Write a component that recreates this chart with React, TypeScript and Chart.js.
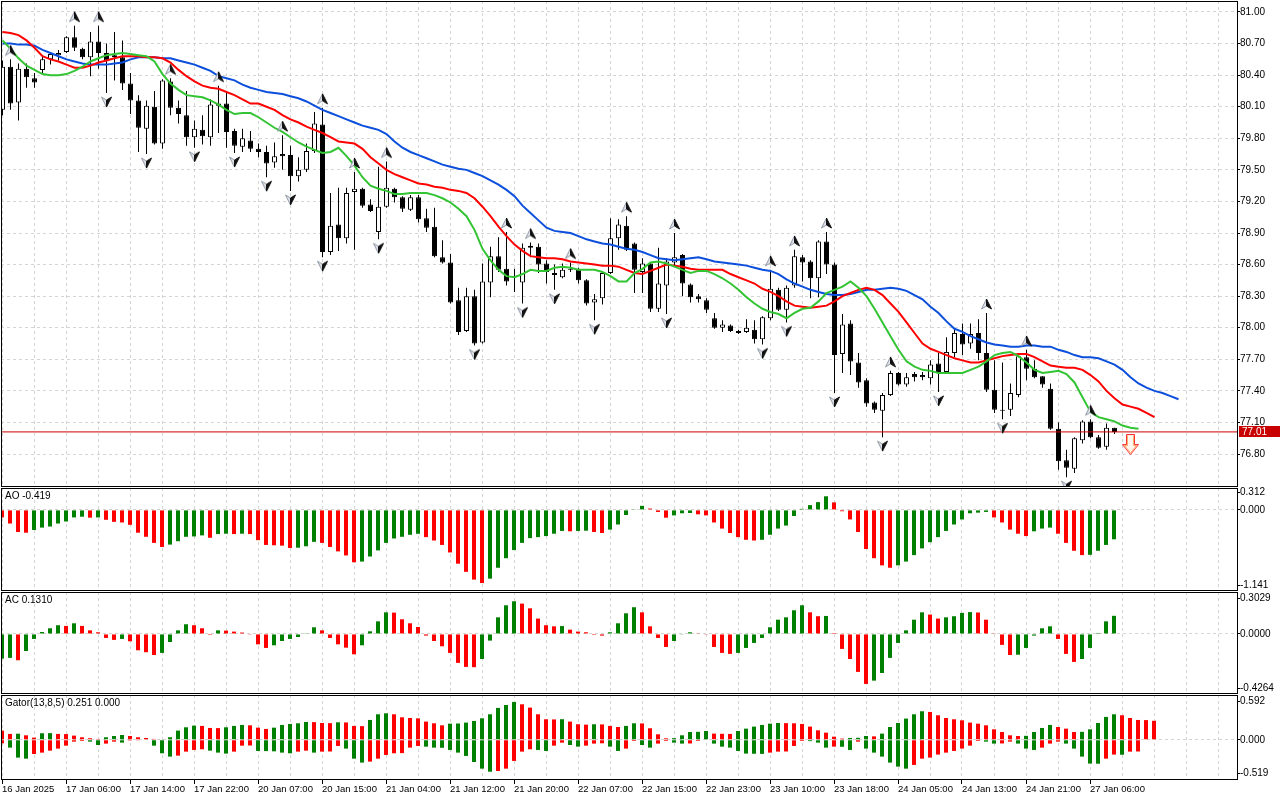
import { useEffect, useRef } from "react";
import { Chart, registerables } from "chart.js";

Chart.register(...registerables);
Chart.defaults.font.family = "'Liberation Sans', Arial, sans-serif";
Chart.defaults.font.size = 10;
Chart.defaults.color = "#000";

// ---- data (H1 bars) ----
const timeLabels = [
  "16 Jan 2025", "17 Jan 06:00", "17 Jan 14:00", "17 Jan 22:00", "20 Jan 07:00", "20 Jan 15:00",
  "21 Jan 04:00", "21 Jan 12:00", "21 Jan 20:00", "22 Jan 07:00", "22 Jan 15:00", "22 Jan 23:00",
  "23 Jan 10:00", "23 Jan 18:00", "24 Jan 05:00", "24 Jan 13:00", "24 Jan 21:00", "27 Jan 06:00",
];

const opens = [
  80.07, 80.48, 80.14, 80.46, 80.37, 80.45, 80.55, 80.59, 80.62, 80.76,
  80.65, 80.57, 80.72, 80.61, 80.59, 80.57, 80.32, 80.16, 79.89, 80.10,
  79.75, 80.34, 80.09, 80.02, 79.81, 79.88, 79.81, 80.11, 80.13, 79.87,
  79.72, 79.78, 79.70, 79.67, 79.57, 79.65, 79.64, 79.44, 79.50, 79.68,
  79.93, 78.72, 78.98, 78.85, 79.29, 79.32, 79.17, 78.91, 79.15, 79.32,
  79.24, 79.12, 79.24, 79.04, 78.96, 78.67, 78.62, 78.26, 77.97, 78.30,
  77.86, 78.43, 78.68, 78.56, 78.49, 78.43, 78.78, 78.77, 78.61, 78.52,
  78.48, 78.56, 78.55, 78.45, 78.24, 78.28, 78.52, 78.85, 78.97, 78.80,
  78.53, 78.61, 78.18, 78.40, 78.62, 78.69, 78.41, 78.30, 78.26, 78.09,
  78.00, 78.02, 77.97, 77.96, 77.98, 77.89, 78.09, 78.36, 78.17, 78.40,
  78.67, 78.63, 78.47, 78.82, 78.60, 77.75, 78.04, 77.67, 77.50, 77.29,
  77.21, 77.36, 77.57, 77.46, 77.56, 77.55, 77.52, 77.66, 77.58, 77.76,
  77.94, 77.85, 77.95, 77.76, 77.41, 77.22, 77.22, 77.36, 77.72, 77.61,
  77.54, 77.42, 77.04, 76.74, 76.66, 76.93, 77.11, 76.96, 76.87, 77.05,
];
const highs = [
  80.54, 80.55, 80.51, 80.51, 80.42, 80.59, 80.62, 80.64, 80.77, 80.87,
  80.66, 80.81, 80.87, 80.70, 80.81, 80.73, 80.42, 80.21, 80.16, 80.25,
  80.36, 80.37, 80.16, 80.25, 79.97, 80.02, 80.17, 80.30, 80.23, 79.89,
  79.89, 79.87, 79.75, 79.73, 79.76, 79.83, 79.73, 79.62, 79.75, 80.05,
  80.09, 79.28, 79.33, 79.33, 79.48, 79.33, 79.22, 79.53, 79.58, 79.33,
  79.25, 79.26, 79.26, 79.13, 79.14, 78.83, 78.70, 78.38, 78.38, 78.36,
  78.61, 78.77, 78.86, 78.91, 78.56, 78.80, 78.81, 78.80, 78.64, 78.60,
  78.61, 78.62, 78.57, 78.46, 78.32, 78.53, 79.04, 79.03, 79.06, 78.81,
  78.66, 78.62, 78.76, 78.66, 78.90, 78.70, 78.42, 78.32, 78.28, 78.14,
  78.07, 78.03, 77.98, 78.08, 78.07, 78.11, 78.55, 78.38, 78.40, 78.74,
  78.69, 78.64, 78.83, 78.91, 78.62, 78.13, 78.07, 77.76, 77.52, 77.30,
  77.38, 77.59, 77.58, 77.57, 77.58, 77.58, 77.69, 77.76, 77.91, 77.99,
  78.04, 78.04, 78.08, 78.14, 77.69, 77.67, 77.47, 77.73, 77.79, 77.69,
  77.54, 77.47, 77.10, 76.84, 76.96, 77.12, 77.13, 76.98, 77.09, 77.05,
];
const lows = [
  80.02, 80.07, 79.97, 80.28, 80.28, 80.41, 80.50, 80.54, 80.61, 80.63,
  80.55, 80.39, 80.46, 80.23, 80.35, 80.26, 80.03, 79.67, 79.65, 79.74,
  79.70, 80.02, 79.94, 79.73, 79.71, 79.74, 79.73, 79.85, 79.71, 79.66,
  79.67, 79.67, 79.62, 79.43, 79.52, 79.50, 79.30, 79.39, 79.48, 79.66,
  78.67, 78.69, 78.73, 78.80, 78.74, 79.14, 79.10, 78.84, 79.14, 79.19,
  79.10, 79.11, 79.00, 78.91, 78.67, 78.61, 78.23, 77.93, 77.96, 77.83,
  77.85, 78.29, 78.53, 78.40, 78.34, 78.23, 78.67, 78.52, 78.42, 78.36,
  78.47, 78.53, 78.42, 78.21, 78.07, 78.22, 78.51, 78.74, 78.73, 78.33,
  78.33, 78.15, 78.15, 78.13, 78.59, 78.30, 78.24, 78.24, 78.14, 77.99,
  77.96, 77.96, 77.94, 77.95, 77.85, 77.84, 78.07, 78.16, 78.05, 78.38,
  78.44, 78.28, 78.29, 78.51, 77.38, 77.57, 77.55, 77.43, 77.25, 77.19,
  76.96, 77.35, 77.45, 77.44, 77.49, 77.50, 77.46, 77.39, 77.57, 77.72,
  77.74, 77.80, 77.69, 77.39, 77.19, 77.13, 77.16, 77.34, 77.50, 77.52,
  77.43, 77.03, 76.65, 76.58, 76.62, 76.90, 76.95, 76.85, 76.84, 76.99,
];
const closes = [
  80.48, 80.13, 80.46, 80.38, 80.33, 80.55, 80.60, 80.61, 80.76, 80.66,
  80.57, 80.72, 80.61, 80.54, 80.57, 80.32, 80.16, 79.90, 80.11, 79.75,
  80.35, 80.09, 80.03, 79.81, 79.89, 79.82, 80.12, 80.13, 79.86, 79.73,
  79.80, 79.70, 79.67, 79.56, 79.63, 79.63, 79.44, 79.50, 79.68, 79.94,
  78.72, 78.97, 78.85, 79.28, 79.32, 79.16, 79.11, 79.15, 79.33, 79.24,
  79.13, 79.24, 79.03, 78.95, 78.68, 78.62, 78.24, 77.96, 78.30, 77.85,
  78.44, 78.68, 78.55, 78.44, 78.48, 78.76, 78.76, 78.60, 78.53, 78.50,
  78.55, 78.55, 78.45, 78.23, 78.27, 78.52, 78.85, 78.98, 78.74, 78.55,
  78.61, 78.18, 78.42, 78.63, 78.67, 78.42, 78.29, 78.27, 78.17, 78.00,
  78.03, 77.97, 77.95, 78.00, 77.89, 78.10, 78.37, 78.17, 78.38, 78.68,
  78.62, 78.47, 78.82, 78.60, 77.74, 78.03, 77.68, 77.48, 77.28, 77.22,
  77.36, 77.57, 77.46, 77.53, 77.53, 77.53, 77.65, 77.57, 77.77, 77.95,
  77.84, 77.94, 77.76, 77.41, 77.22, 77.21, 77.38, 77.73, 77.61, 77.53,
  77.46, 77.04, 76.73, 76.67, 76.95, 77.11, 76.96, 76.86, 77.05, 77.01,
];

// Alligator (jaw / teeth / lips), already shifted forward
const jaw = [
  80.70, 80.70, 80.69, 80.69, 80.68, 80.64, 80.61, 80.58, 80.55, 80.53,
  80.51, 80.50, 80.50, 80.50, 80.51, 80.52, 80.55, 80.57, 80.57, 80.57,
  80.56, 80.56, 80.54, 80.52, 80.50, 80.47, 80.44, 80.39, 80.37, 80.35,
  80.31, 80.28, 80.26, 80.24, 80.23, 80.22, 80.20, 80.18, 80.15, 80.11,
  80.07, 80.04, 80.01, 79.98, 79.95, 79.92, 79.90, 79.88, 79.84, 79.77,
  79.71, 79.67, 79.64, 79.61, 79.58, 79.55, 79.53, 79.51, 79.50, 79.47,
  79.44, 79.40, 79.36, 79.31, 79.25, 79.16, 79.09, 79.02, 78.95, 78.92,
  78.91, 78.90, 78.87, 78.84, 78.82, 78.80, 78.79, 78.77, 78.75, 78.74,
  78.72, 78.69, 78.66, 78.65, 78.64, 78.65, 78.66, 78.67, 78.65, 78.63,
  78.62, 78.61, 78.60, 78.59, 78.57, 78.55, 78.54, 78.51, 78.46, 78.42,
  78.39, 78.36, 78.34, 78.32, 78.31, 78.31, 78.32, 78.34, 78.36, 78.36,
  78.37, 78.38, 78.37, 78.35, 78.31, 78.27, 78.20, 78.14, 78.06, 77.99,
  77.96, 77.92, 77.89, 77.86, 77.84, 77.83, 77.82, 77.82, 77.83, 77.83,
  77.82, 77.82, 77.79, 77.77, 77.74, 77.72, 77.72, 77.71, 77.68, 77.65,
  77.60, 77.53, 77.47, 77.43, 77.40, 77.38, 77.35, 77.32,
];
const teeth = [
  80.81, 80.80, 80.78, 80.73, 80.66, 80.58, 80.55, 80.53, 80.50, 80.47,
  80.47, 80.49, 80.52, 80.54, 80.56, 80.58, 80.58, 80.58, 80.57, 80.57,
  80.56, 80.52, 80.45, 80.39, 80.34, 80.30, 80.28, 80.27, 80.24, 80.21,
  80.17, 80.13, 80.13, 80.10, 80.07, 80.02, 79.98, 79.95, 79.91, 79.88,
  79.85, 79.81, 79.77, 79.76, 79.75, 79.70, 79.62, 79.56, 79.50, 79.46,
  79.43, 79.40, 79.37, 79.36, 79.34, 79.33, 79.31, 79.30, 79.28, 79.23,
  79.15, 79.06, 78.96, 78.87, 78.79, 78.73, 78.68, 78.67, 78.66, 78.66,
  78.65, 78.63, 78.62, 78.61, 78.60, 78.59, 78.59, 78.58, 78.55, 78.52,
  78.51, 78.54, 78.57, 78.60, 78.59, 78.58, 78.56, 78.55, 78.55, 78.55,
  78.55, 78.51, 78.48, 78.45, 78.42, 78.37, 78.34, 78.30, 78.25, 78.21,
  78.20, 78.19, 78.20, 78.21, 78.25, 78.30, 78.33, 78.36, 78.38, 78.36,
  78.31, 78.23, 78.15, 78.05, 77.95, 77.85, 77.80, 77.77, 77.74, 77.71,
  77.69, 77.67, 77.67, 77.69, 77.71, 77.73, 77.74, 77.75, 77.75, 77.72,
  77.68, 77.64, 77.63, 77.62, 77.62, 77.60, 77.55, 77.49, 77.40, 77.33,
  77.27, 77.25, 77.23, 77.19, 77.15,
];
const lips = [
  80.73, 80.65, 80.56, 80.49, 80.45, 80.41, 80.40, 80.40, 80.41, 80.44,
  80.48, 80.53, 80.56, 80.59, 80.60, 80.61, 80.60, 80.59, 80.58, 80.53,
  80.41, 80.32, 80.26, 80.21, 80.20, 80.19, 80.16, 80.12, 80.07, 80.03,
  80.04, 80.04, 80.00, 79.95, 79.90, 79.86, 79.81, 79.76, 79.72, 79.69,
  79.66, 79.67, 79.71, 79.63, 79.54, 79.43, 79.35, 79.32, 79.30, 79.27,
  79.27, 79.28, 79.28, 79.28, 79.26, 79.23, 79.19, 79.13, 79.06, 78.93,
  78.75, 78.64, 78.55, 78.49, 78.48, 78.51, 78.55, 78.54, 78.54, 78.57,
  78.58, 78.57, 78.55, 78.55, 78.55, 78.53, 78.49, 78.44, 78.44, 78.52,
  78.56, 78.62, 78.63, 78.61, 78.58, 78.55, 78.52, 78.54, 78.54, 78.51,
  78.47, 78.42, 78.36, 78.29, 78.23, 78.18, 78.15, 78.13, 78.09, 78.14,
  78.18, 78.19, 78.25, 78.33, 78.36, 78.39, 78.44, 78.38, 78.30, 78.18,
  78.05, 77.92, 77.79, 77.68, 77.63, 77.60, 77.59, 77.57, 77.57, 77.57,
  77.57, 77.60, 77.63, 77.68, 77.74, 77.76, 77.77, 77.73, 77.67, 77.60,
  77.57, 77.58, 77.59, 77.56, 77.48, 77.34, 77.20, 77.15, 77.13, 77.11,
  77.07, 77.05, 77.04,
];

const fractalUp = [1, 9, 12, 21, 27, 35, 40, 44, 48, 63, 66, 71, 78, 84, 96, 99, 103, 111, 123, 128, 136];
const fractalDown = [13, 18, 24, 29, 33, 36, 40, 47, 59, 65, 69, 74, 83, 95, 98, 104, 110, 117, 125, 133];
const sellBar = 141;
const sellPrice = 76.89;

const priceTicks = [76.8, 77.1, 77.4, 77.7, 78.0, 78.3, 78.6, 78.9, 79.2, 79.5, 79.8, 80.1, 80.4, 80.7, 81.0];
const priceMin = 76.496;
const priceMax = 81.1045;

const aoValues = [
  -0.107, -0.194, -0.315, -0.325, -0.286, -0.252, -0.237, -0.194, -0.165, -0.107,
  -0.097, -0.111, -0.107, -0.141, -0.170, -0.179, -0.213, -0.325, -0.383, -0.470,
  -0.528, -0.494, -0.446, -0.383, -0.378, -0.363, -0.397, -0.344, -0.339, -0.344,
  -0.339, -0.344, -0.431, -0.499, -0.504, -0.509, -0.543, -0.538, -0.518, -0.455,
  -0.470, -0.528, -0.591, -0.649, -0.746, -0.736, -0.664, -0.577, -0.470, -0.407,
  -0.383, -0.355, -0.340, -0.388, -0.436, -0.499, -0.606, -0.766, -0.882, -0.993,
  -1.042, -0.979, -0.824, -0.688, -0.572, -0.470, -0.402, -0.388, -0.373, -0.339,
  -0.300, -0.305, -0.300, -0.296, -0.315, -0.329, -0.281, -0.208, -0.073, 0.010,
  0.058, 0.019, -0.029, -0.111, -0.078, -0.048, -0.044, -0.063, -0.078, -0.179,
  -0.266, -0.329, -0.388, -0.426, -0.436, -0.426, -0.354, -0.266, -0.223, -0.087,
  0.015, 0.068, 0.111, 0.194, 0.107, -0.019, -0.136, -0.315, -0.557, -0.688,
  -0.790, -0.824, -0.790, -0.736, -0.644, -0.548, -0.460, -0.388, -0.300, -0.208,
  -0.136, -0.048, -0.039, -0.029, -0.107, -0.179, -0.281, -0.339, -0.373, -0.305,
  -0.266, -0.252, -0.339, -0.470, -0.582, -0.644, -0.640, -0.582, -0.499, -0.419,
];
const acValues = [
  -0.178, -0.173, -0.190, -0.123, -0.036, 0.014, 0.041, 0.063, 0.058, 0.077,
  0.058, 0.026, 0.012, -0.029, -0.043, -0.036, -0.053, -0.118, -0.132, -0.152,
  -0.137, -0.058, 0.026, 0.070, 0.063, 0.041, -0.007, 0.026, 0.024, 0.017,
  0.010, -0.002, -0.075, -0.101, -0.082, -0.051, -0.036, -0.022, 0.005, 0.048,
  0.026, -0.029, -0.075, -0.099, -0.147, -0.082, 0.019, 0.091, 0.156, 0.154,
  0.106, 0.077, 0.050, -0.012, -0.051, -0.089, -0.137, -0.209, -0.238, -0.240,
  -0.181, -0.048, 0.120, 0.207, 0.236, 0.219, 0.185, 0.111, 0.063, 0.055,
  0.057, 0.031, 0.017, 0.012, -0.007, -0.012, 0.012, 0.077, 0.149, 0.193,
  0.156, 0.055, -0.029, -0.094, -0.051, -0.005, 0.012, 0.005, -0.005, -0.094,
  -0.137, -0.144, -0.137, -0.101, -0.065, -0.029, 0.048, 0.103, 0.120, 0.171,
  0.207, 0.156, 0.128, 0.130, 0.007, -0.108, -0.181, -0.274, -0.361, -0.337,
  -0.282, -0.173, -0.065, 0.026, 0.103, 0.156, 0.140, 0.111, 0.120, 0.128,
  0.152, 0.158, 0.155, 0.103, 0.005, -0.079, -0.152, -0.150, -0.101, -0.012,
  0.041, 0.055, -0.036, -0.144, -0.202, -0.181, -0.101, 0.007, 0.091, 0.131,
];
const gatorUp = [
  0.121, 0.077, 0.080, 0.059, 0.028, 0.086, 0.088, 0.077, 0.075, 0.055,
  0.033, 0.020, 0.011, 0.033, 0.050, 0.063, 0.050, 0.033, 0.024, 0.011,
  0.006, 0.033, 0.121, 0.165, 0.187, 0.183, 0.156, 0.154, 0.165, 0.183,
  0.196, 0.191, 0.160, 0.143, 0.160, 0.196, 0.209, 0.218, 0.235, 0.233,
  0.222, 0.220, 0.231, 0.229, 0.183, 0.180, 0.262, 0.337, 0.350, 0.337,
  0.297, 0.288, 0.283, 0.240, 0.218, 0.191, 0.213, 0.215, 0.227, 0.249,
  0.284, 0.337, 0.421, 0.460, 0.500, 0.469, 0.425, 0.337, 0.271, 0.269,
  0.272, 0.240, 0.205, 0.200, 0.205, 0.203, 0.183, 0.169, 0.183, 0.218,
  0.216, 0.152, 0.072, 0.019, 0.021, 0.059, 0.103, 0.105, 0.116, 0.081,
  0.079, 0.077, 0.116, 0.147, 0.174, 0.196, 0.213, 0.222, 0.220, 0.218,
  0.209, 0.174, 0.125, 0.094, 0.041, 0.015, 0.024, 0.026, 0.050, 0.045,
  0.081, 0.169, 0.222, 0.280, 0.337, 0.377, 0.368, 0.324, 0.288, 0.271,
  0.257, 0.227, 0.213, 0.191, 0.138, 0.103, 0.059, 0.050, 0.052, 0.103,
  0.156, 0.196, 0.169, 0.147, 0.103, 0.105, 0.138, 0.222, 0.302, 0.337,
  0.324, 0.288, 0.262, 0.260, 0.251,
];
const gatorDown = [
  -0.047, -0.104, -0.236, -0.250, -0.188, -0.170, -0.144, -0.117, -0.078, -0.025,
  -0.016, -0.025, -0.069, -0.051, -0.025, -0.038, -0.011, -0.009, -0.007, -0.078,
  -0.179, -0.223, -0.210, -0.157, -0.135, -0.126, -0.144, -0.170, -0.183, -0.157,
  -0.078, -0.076, -0.148, -0.150, -0.153, -0.170, -0.179, -0.157, -0.144, -0.170,
  -0.157, -0.155, -0.082, -0.117, -0.250, -0.302, -0.289, -0.250, -0.201, -0.179,
  -0.177, -0.104, -0.082, -0.091, -0.104, -0.106, -0.135, -0.170, -0.214, -0.294,
  -0.382, -0.422, -0.413, -0.382, -0.280, -0.157, -0.126, -0.135, -0.148, -0.078,
  -0.038, -0.069, -0.091, -0.078, -0.051, -0.047, -0.091, -0.148, -0.117, -0.016,
  -0.069, -0.104, -0.051, -0.016, -0.038, -0.051, -0.049, -0.016, -0.007, -0.051,
  -0.091, -0.104, -0.148, -0.183, -0.185, -0.187, -0.170, -0.157, -0.155, -0.082,
  -0.016, -0.018, -0.038, -0.104, -0.091, -0.093, -0.135, -0.025, -0.117, -0.170,
  -0.223, -0.302, -0.355, -0.382, -0.333, -0.250, -0.236, -0.196, -0.170, -0.148,
  -0.117, -0.078, -0.016, -0.025, -0.051, -0.049, -0.025, -0.051, -0.117, -0.135,
  -0.104, -0.051, -0.025, -0.051, -0.117, -0.223, -0.315, -0.317, -0.250, -0.196,
  -0.198, -0.157, -0.155,
];

const aoRange = [-1.141, 0.312];
const acRange = [-0.4264, 0.3029];
const gatorRange = [-0.519, 0.592];

// ---- look ----
const W = 1280;
const AXIS_W = 43;
const BAR_PX = 8;
const GRID = "#d4d4d4";
const GREEN = "#008000";
const RED = "#ff0000";
const FONT = "10px 'Liberation Sans', Arial, sans-serif";

function histColors(values: number[], firstUp: boolean, byAbs: boolean) {
  return values.map((v, i) => {
    if (i === 0) return firstUp ? GREEN : RED;
    const a = byAbs ? Math.abs(v) : v;
    const b = byAbs ? Math.abs(values[i - 1]) : values[i - 1];
    return a > b ? GREEN : RED;
  });
}

// scales must not reserve room for half-labels: the panes are laid out by hand
function noPad(s: any) {
  s.paddingTop = 0;
  s.paddingBottom = 0;
  s.paddingLeft = 0;
  s.paddingRight = 0;
}

function xScale(firstBarPx: number, withLabels: boolean) {
  const left = 1;
  const min = -(firstBarPx - left) / BAR_PX;
  const max = min + (W - AXIS_W - left) / BAR_PX;
  const labelled = (v: number) => v % 8 === 0 && v / 8 < timeLabels.length;
  return {
    type: "linear",
    min,
    max,
    offset: false,
    afterBuildTicks: (s: any) => {
      const t = [];
      for (let v = 0; v <= max; v += 4) t.push({ value: v });
      s.ticks = t;
    },
    afterFit: (s: any) => {
      s.height = withLabels ? 21 : 0;
      noPad(s);
    },
    ticks: {
      display: withLabels,
      autoSkip: false,
      maxRotation: 0,
      minRotation: 0,
      align: "start",
      padding: 0,
      font: { size: 9.5 },
      callback: (v: any) => (labelled(Number(v)) ? timeLabels[Number(v) / 8] : ""),
    },
    grid: {
      offset: false,
      color: GRID,
      drawTicks: withLabels,
      tickLength: 5,
      tickColor: (c: any) => (c.tick && labelled(c.tick.value) ? "#000" : "rgba(0,0,0,0)"),
      borderDash: [3, 3],
    },
    border: { display: false, dash: [3, 3] },
  };
}

function subYScale(range: number[], areaH: number, offTop: number, offBot: number, digits: number) {
  const [min, max] = range;
  const span = max - min;
  const tTop = max - (offTop * span) / areaH;
  const tBot = min + (offBot * span) / areaH;
  return {
    type: "linear",
    position: "right",
    min,
    max,
    afterBuildTicks: (s: any) => {
      s.ticks = [{ value: tBot }, { value: 0 }, { value: tTop }];
    },
    afterFit: (s: any) => {
      s.width = AXIS_W;
      noPad(s);
    },
    ticks: {
      autoSkip: false,
      padding: 0,
      callback: (v: any) => {
        const n = Number(v);
        return n > 0 ? max.toFixed(digits) : n < 0 ? min.toFixed(digits) : (0).toFixed(digits);
      },
    },
    grid: {
      color: (c: any) => (c.tick && c.tick.value === 0 ? GRID : "rgba(0,0,0,0)"),
      tickColor: "#000",
      tickLength: 3,
      borderDash: [3, 3],
    },
    border: { display: false, dash: [3, 3] },
  };
}

const framePlugin = {
  id: "frame",
  afterDraw(chart: any) {
    const { ctx, chartArea: a } = chart;
    ctx.save();
    ctx.strokeStyle = "#000";
    ctx.lineWidth = 1;
    ctx.strokeRect(a.left + 0.5, a.top + 0.5, a.right - a.left, a.bottom - a.top);
    ctx.restore();
  },
};

const paneTitlePlugin = {
  id: "paneTitle",
  afterDraw(chart: any, _args: any, opts: any) {
    if (!opts || !opts.text) return;
    const { ctx, chartArea: a } = chart;
    ctx.save();
    ctx.font = FONT;
    ctx.fillStyle = "#000";
    ctx.textBaseline = "middle";
    ctx.fillText(opts.text, a.left + 4, a.top + 8);
    ctx.restore();
  },
};

const priceTagPlugin = {
  id: "priceTag",
  afterDraw(chart: any) {
    const last = closes[closes.length - 1];
    const y = Math.round(chart.scales.y.getPixelForValue(last));
    const x = chart.chartArea.right + 2;
    const ctx = chart.ctx;
    ctx.save();
    ctx.fillStyle = "#c80000";
    ctx.fillRect(x, y - 6, 41, 11);
    ctx.fillStyle = "#fff";
    ctx.font = FONT;
    ctx.textBaseline = "middle";
    ctx.fillText(last.toFixed(2), x + 3, y);
    ctx.restore();
  },
};

function fractalIcon(up: boolean) {
  const c = document.createElement("canvas");
  c.width = 11;
  c.height = 30;
  const g = c.getContext("2d")!;
  const s = up ? 1 : -1;
  const cy = up ? 6 : 24;
  const tip = [5.5, cy - 5 * s];
  const left = [0.5, cy + 5 * s];
  const right = [10.5, cy + 5 * s];
  const notch = [5.5, cy + 2 * s];
  g.beginPath();
  g.moveTo(tip[0], tip[1]);
  g.lineTo(left[0], left[1]);
  g.lineTo(notch[0], notch[1]);
  g.closePath();
  g.fillStyle = "#dfe4ea";
  g.fill();
  g.strokeStyle = "#8e97a4";
  g.lineWidth = 1;
  g.stroke();
  g.beginPath();
  g.moveTo(tip[0], tip[1]);
  g.lineTo(notch[0], notch[1]);
  g.lineTo(right[0], right[1]);
  g.closePath();
  g.fillStyle = "#111";
  g.fill();
  g.strokeStyle = "#111";
  g.stroke();
  return c;
}

function sellIcon() {
  const c = document.createElement("canvas");
  c.width = 17;
  c.height = 21;
  const g = c.getContext("2d")!;
  g.beginPath();
  g.moveTo(4.5, 0.5);
  g.lineTo(12.5, 0.5);
  g.lineTo(12.5, 10.5);
  g.lineTo(16.5, 10.5);
  g.lineTo(8.5, 20.5);
  g.lineTo(0.5, 10.5);
  g.lineTo(4.5, 10.5);
  g.closePath();
  g.fillStyle = "#fff6ee";
  g.fill();
  g.strokeStyle = "#ff3030";
  g.lineWidth = 1;
  g.stroke();
  g.beginPath();
  g.moveTo(5.5, 1.5);
  g.lineTo(5.5, 11.5);
  g.lineTo(2.6, 11.5);
  g.lineTo(8.5, 18.8);
  g.lineTo(14.4, 11.5);
  g.lineTo(11.5, 11.5);
  g.lineTo(11.5, 1.5);
  g.strokeStyle = "#ffb070";
  g.stroke();
  return c;
}

function baseOptions(padBottom: number) {
  return {
    animation: false,
    responsive: false,
    maintainAspectRatio: false,
    events: [],
    layout: { autoPadding: false, padding: { left: 1, top: 1, right: 0, bottom: padBottom } },
    plugins: { legend: { display: false }, tooltip: { enabled: false } },
  };
}

function histDataset(values: number[], firstUp: boolean, byAbs: boolean) {
  return {
    type: "bar",
    data: values.map((v, i) => ({ x: i, y: v })),
    backgroundColor: histColors(values, firstUp, byAbs),
    barThickness: 4,
    grouped: false,
    borderWidth: 0,
    inflateAmount: 0,
  };
}

export default function App() {
  const mainRef = useRef<HTMLCanvasElement | null>(null);
  const aoRef = useRef<HTMLCanvasElement | null>(null);
  const acRef = useRef<HTMLCanvasElement | null>(null);
  const gatorRef = useRef<HTMLCanvasElement | null>(null);

  useEffect(() => {
    if (!mainRef.current || !aoRef.current || !acRef.current || !gatorRef.current) return;
    const charts: Chart[] = [];
    const lastClose = closes[closes.length - 1];
    const mainX: any = xScale(2.5, false);

    charts.push(
      new Chart(mainRef.current, {
        type: "bar",
        data: {
          datasets: [
            {
              type: "bar",
              data: lows.map((l, i) => ({ x: i, y: [l, highs[i]] })),
              backgroundColor: "#000",
              barThickness: 1,
              grouped: false,
              borderWidth: 0,
              inflateAmount: 0,
              order: 10,
            },
            {
              type: "bar",
              data: opens.map((o, i) => ({ x: i, y: [o, closes[i]] })),
              backgroundColor: opens.map((o, i) => (closes[i] >= o ? "#fff" : "#000")),
              borderColor: "#000",
              borderWidth: 1,
              borderSkipped: false,
              barThickness: 5,
              grouped: false,
              inflateAmount: 0,
              order: 9,
            },
            {
              type: "line",
              data: jaw.map((v, i) => ({ x: i, y: v })),
              borderColor: "#0b4fdc",
              borderWidth: 2,
              pointRadius: 0,
              order: 7,
            },
            {
              type: "line",
              data: teeth.map((v, i) => ({ x: i, y: v })),
              borderColor: "#ff0000",
              borderWidth: 2,
              pointRadius: 0,
              order: 6,
            },
            {
              type: "line",
              data: lips.map((v, i) => ({ x: i, y: v })),
              borderColor: "#33c433",
              borderWidth: 2,
              pointRadius: 0,
              order: 5,
            },
            {
              type: "line",
              data: [
                { x: mainX.min, y: lastClose },
                { x: mainX.max, y: lastClose },
              ],
              borderColor: "#c80000",
              borderWidth: 1,
              pointRadius: 0,
              order: 4,
            },
            {
              type: "line",
              data: fractalUp.map((i) => ({ x: i, y: highs[i] })),
              showLine: false,
              pointStyle: fractalIcon(true),
              pointRadius: 5,
              order: 2,
            },
            {
              type: "line",
              data: fractalDown.map((i) => ({ x: i, y: lows[i] })),
              showLine: false,
              pointStyle: fractalIcon(false),
              pointRadius: 5,
              order: 2,
            },
            {
              type: "line",
              data: [{ x: sellBar, y: sellPrice }],
              showLine: false,
              pointStyle: sellIcon(),
              pointRadius: 8,
              order: 1,
            },
          ],
        } as any,
        options: {
          ...baseOptions(1),
          scales: {
            x: mainX,
            y: {
              type: "linear",
              position: "right",
              min: priceMin,
              max: priceMax,
              afterBuildTicks: (s: any) => {
                s.ticks = priceTicks.map((v) => ({ value: v }));
              },
              afterFit: (s: any) => {
                s.width = AXIS_W;
                noPad(s);
              },
              ticks: { autoSkip: false, padding: 0, callback: (v: any) => Number(v).toFixed(2) },
              grid: { color: GRID, tickColor: "#000", tickLength: 3, borderDash: [3, 3] },
              border: { display: false, dash: [3, 3] },
            },
          },
        } as any,
        plugins: [framePlugin, priceTagPlugin],
      })
    );

    charts.push(
      new Chart(aoRef.current, {
        type: "bar",
        data: { datasets: [histDataset(aoValues, false, false)] } as any,
        options: {
          ...baseOptions(1),
          scales: { x: xScale(2, false), y: subYScale(aoRange, 102, 4, 5, 3) },
          plugins: {
            legend: { display: false },
            tooltip: { enabled: false },
            paneTitle: { text: `AO ${aoValues[aoValues.length - 1].toFixed(3)}` },
          },
        } as any,
        plugins: [framePlugin, paneTitlePlugin],
      })
    );

    charts.push(
      new Chart(acRef.current, {
        type: "bar",
        data: { datasets: [histDataset(acValues, true, false)] } as any,
        options: {
          ...baseOptions(1),
          scales: { x: xScale(2, false), y: subYScale(acRange, 101, 6, 5, 4) },
          plugins: {
            legend: { display: false },
            tooltip: { enabled: false },
            paneTitle: { text: `AC ${acValues[acValues.length - 1].toFixed(4)}` },
          },
        } as any,
        plugins: [framePlugin, paneTitlePlugin],
      })
    );

    const lastUp = gatorUp[gatorUp.length - 1];
    const lastDown = gatorDown[gatorUp.length - 1] ?? 0;
    charts.push(
      new Chart(gatorRef.current, {
        type: "bar",
        data: {
          datasets: [histDataset(gatorUp, false, false), histDataset(gatorDown, false, true)],
        } as any,
        options: {
          ...baseOptions(0),
          scales: { x: xScale(2, true), y: subYScale(gatorRange, 84, 6, 6, 3) },
          plugins: {
            legend: { display: false },
            tooltip: { enabled: false },
            paneTitle: {
              text: `Gator(13,8,5) ${lastUp.toFixed(3)} ${Math.abs(lastDown).toFixed(3)}`,
            },
          },
        } as any,
        plugins: [framePlugin, paneTitlePlugin],
      })
    );

    return () => {
      charts.forEach((c) => c.destroy());
    };
  }, []);

  const cv = (top: number, h: number) => ({
    position: "absolute" as const,
    left: 0,
    top,
    width: W,
    height: h,
  });

  return (
    <div
      style={{
        position: "absolute",
        left: 0,
        top: 0,
        width: W,
        height: 800,
        background: "#fff",
        overflow: "hidden",
      }}
    >
      <canvas ref={mainRef} width={W} height={487} style={cv(0, 487)} />
      <canvas ref={aoRef} width={W} height={104} style={cv(487, 104)} />
      <canvas ref={acRef} width={W} height={103} style={cv(591, 103)} />
      <canvas ref={gatorRef} width={W} height={106} style={cv(694, 106)} />
    </div>
  );
}
